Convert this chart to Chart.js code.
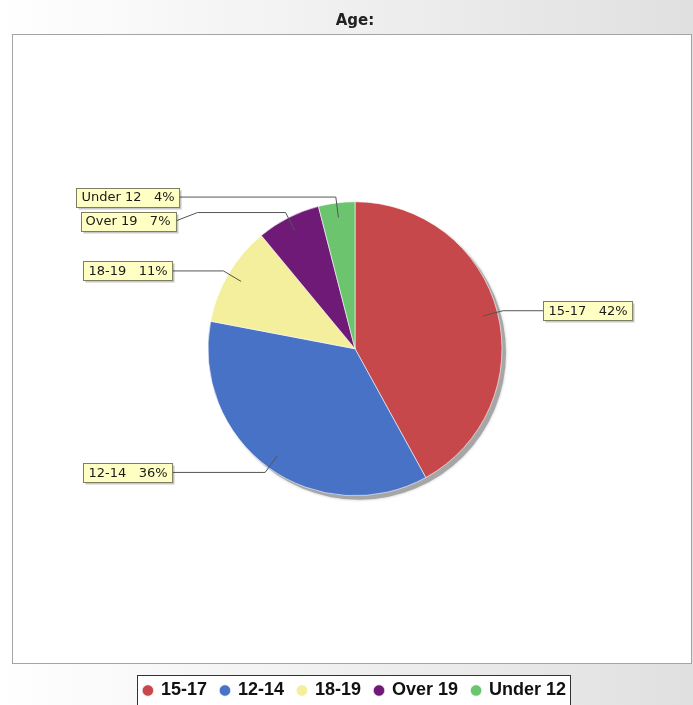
<!DOCTYPE html>
<html><head><meta charset="utf-8">
<script src="https://cdn.jsdelivr.net/npm/chart.js@4"></script>
<style>html,body{margin:0;padding:0;background:#fff;overflow:hidden}</style>
</head><body>
<canvas id="c" width="693" height="705"></canvas>
<script>
const categories = ['15-17', '12-14', '18-19', 'Over 19', 'Under 12'];
const values = [42, 36, 11, 7, 4];
const colors = ['#C6484A', '#4872C6', '#F4EF9C', '#701A78', '#6CC46E'];
const titleText = 'Age:';

const decor = {
  id: 'decor',
  beforeDraw(chart) {
    const {ctx, width, height} = chart;
    ctx.save();
    const g = ctx.createLinearGradient(0, 0, width, 0);
    g.addColorStop(0, '#ffffff');
    g.addColorStop(1, '#e0e0e0');
    ctx.fillStyle = g;
    ctx.fillRect(0, 0, width, height);
    // plot box
    ctx.fillStyle = '#ffffff';
    ctx.fillRect(12.5, 34.5, 679, 629);
    ctx.strokeStyle = '#a4a4a4';
    ctx.lineWidth = 1;
    ctx.strokeRect(12.5, 34.5, 679, 629);
    // legend box
    const hb = chart.legend.legendHitBoxes;
    if (hb && hb.length) {
      const l = Math.round(Math.min(...hb.map(h => h.left)) - 7) + 0.5;
      const r = Math.round(Math.max(...hb.map(h => h.left + h.width)) + 4) + 0.5;
      const t = Math.round(hb[0].top - 6.5) + 0.5;
      ctx.fillStyle = '#ffffff';
      ctx.fillRect(l, t, r - l, height - t + 5);
      ctx.strokeStyle = '#333333';
      ctx.strokeRect(l, t, r - l, height - t + 5);
    }
    ctx.restore();
  },
  beforeDatasetsDraw(chart) {
    const arc = chart.getDatasetMeta(0).data[0];
    if (!arc) return;
    const p = arc.getProps(['x', 'y', 'outerRadius'], true);
    const ctx = chart.ctx;
    ctx.save();
    ctx.fillStyle = '#a6a6a6';
    ctx.shadowColor = 'rgba(0,0,0,0.25)';
    ctx.shadowBlur = 3;
    ctx.beginPath();
    ctx.arc(p.x + 4, p.y + 4, p.outerRadius, 0, Math.PI * 2);
    ctx.fill();
    ctx.restore();
  },
  afterDatasetsDraw(chart) {
    const ctx = chart.ctx;
    const meta = chart.getDatasetMeta(0);
    const total = values.reduce((a, b) => a + b, 0);
    ctx.save();
    ctx.font = '13px "DejaVu Sans"';
    const items = meta.data.map((arc, i) => {
      const p = arc.getProps(['x', 'y', 'startAngle', 'endAngle', 'outerRadius'], true);
      const mid = (p.startAngle + p.endAngle) / 2;
      const c = Math.cos(mid), s = Math.sin(mid), R = p.outerRadius;
      const text = categories[i] + '   ' + Math.round(values[i] / total * 100) + '%';
      const w = ctx.measureText(text).width + 10;
      return {
        text, w,
        ax: p.x + c * R * 0.9, ay: p.y + s * R * 0.9,
        ex: p.x + c * R * 1.04, ey: p.y + s * R * 1.04,
        right: c >= 0,
        lx: c >= 0 ? p.x + R + 86 : p.x - R - 80
      };
    });
    [true, false].forEach(side => {
      const list = items.filter(it => it.right === side).sort((a, b) => a.ey - b.ey);
      let prev = -Infinity;
      list.forEach(it => { it.ly = Math.max(it.ey, prev + 24); prev = it.ly; });
    });
    const h = 19;
    items.forEach(it => {
      ctx.strokeStyle = '#555555';
      ctx.lineWidth = 1;
      ctx.beginPath();
      ctx.moveTo(it.ax, it.ay);
      ctx.lineTo(it.ex, it.ey);
      const edge = it.right ? it.lx - it.w / 2 : it.lx + it.w / 2;
      if (Math.abs(it.ly - it.ey) < 0.5) {
        ctx.lineTo(edge, it.ey);
      } else {
        const stub = it.right ? edge - 22 : edge + 22;
        ctx.lineTo(stub, it.ey);
        ctx.lineTo(edge, it.ly);
      }
      ctx.stroke();
      const bx = Math.round(it.lx - it.w / 2) + 0.5, by = Math.round(it.ly - h / 2) + 0.5;
      ctx.fillStyle = 'rgba(0,0,0,0.22)';
      ctx.fillRect(bx + 2, by + 2, it.w, h);
      ctx.fillStyle = '#FFFFC4';
      ctx.fillRect(bx, by, it.w, h);
      ctx.strokeStyle = '#7d7d60';
      ctx.strokeRect(bx, by, it.w, h);
      ctx.fillStyle = '#1a1a1a';
      ctx.textAlign = 'center';
      ctx.textBaseline = 'middle';
      ctx.fillText(it.text, it.lx, it.ly + 1);
    });
    ctx.restore();
  }
};

new Chart(document.getElementById('c'), {
  type: 'pie',
  data: {
    labels: categories,
    datasets: [{
      data: values,
      backgroundColor: colors,
      borderColor: 'rgba(255,255,255,0.6)',
      borderWidth: 1,
      radius: 147
    }]
  },
  options: {
    responsive: false,
    animation: false,
    events: [],
    layout: {padding: {left: 17, right: 0, top: 0, bottom: -4.5}},
    plugins: {
      title: {
        display: true,
        text: titleText,
        color: '#222222',
        font: {family: '"DejaVu Sans"', size: 15, weight: 'bold'},
        padding: {top: 12, bottom: 0}
      },
      legend: {
        position: 'bottom',
        labels: {
          usePointStyle: true,
          pointStyle: 'circle',
          boxWidth: 8,
          boxHeight: 8,
          padding: 14,
          color: '#111111',
          font: {family: '"Liberation Sans"', size: 18, weight: 'bold'}
        }
      },
      tooltip: {enabled: false}
    }
  },
  plugins: [decor]
});
</script>
</body></html>
